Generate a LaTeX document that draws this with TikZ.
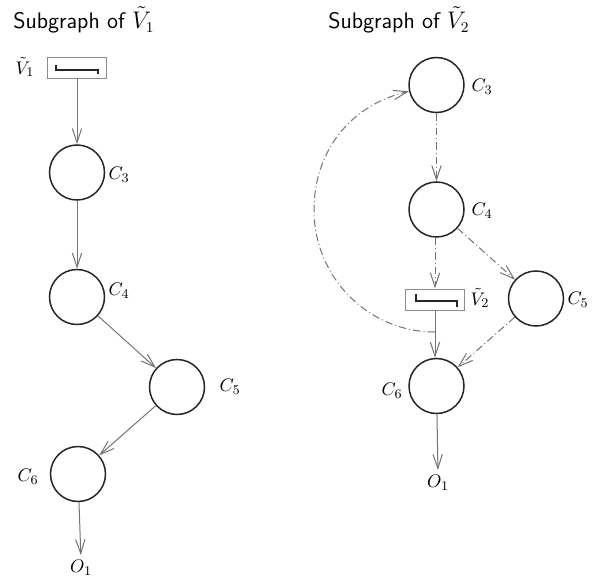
\documentclass[tikz,border=0pt]{standalone}
\usepackage{fontspec}
\usetikzlibrary{arrows.meta}
\tikzset{
  cnode/.style={circle, draw=black!85, line width=0.9pt, minimum size=33pt, inner sep=0pt},
  vbox/.style={rectangle, draw=black!45, line width=0.6pt, minimum width=35pt, minimum height=12.6pt, inner sep=0pt},
  glyph/.style={draw=black!85, line width=1.4pt},
  lab/.style={font=\fontsize{11}{13}\selectfont, inner sep=0pt},
  ttl/.style={font=\fontsize{13.5}{16}\selectfont\sffamily, inner sep=0pt, anchor=base west},
  edge/.style={draw=black!55, line width=0.6pt, -{Straight Barb[length=8.5pt,width=5.6pt]}},
  dd/.style={edge, dash pattern=on 4.5pt off 1.8pt on 0.6pt off 1.8pt},
}
\begin{document}
\begin{tikzpicture}[x=0.6pt, y=-0.6pt]
\useasboundingbox (0,0) rectangle (595,581);
% titles
\node[ttl] (t1) at (13,29) {Subgraph of $\tilde{V}_1$};
\node[ttl] (t2) at (328,29) {Subgraph of $\tilde{V}_2$};
% left graph
\node[vbox] (lv) at (77,68.5) {};
\draw[glyph, shift={(lv.center)}] (-21,-3.5) -- (-21,1.5) -- (21,1.5) -- (21,5.5);
\node[lab] (lvl) at (25,67) {$\tilde{V}_1$};
\node[cnode] (l3) at (77,172.5) {};
\node[lab] (l3l) at (119,175) {$C_3$};
\node[cnode] (l4) at (77,297) {};
\node[lab] (l4l) at (119,291) {$C_4$};
\node[cnode] (l5) at (177,387) {};
\node[lab] (l5l) at (230,387) {$C_5$};
\node[cnode] (l6) at (78,474) {};
\node[lab] (l6l) at (28,477) {$C_6$};
\node[lab] (lo) at (81,568) {$O_1$};
\draw[edge] (lv) -- (l3);
\draw[edge] (l3) -- (l4);
\draw[edge] (l4) -- (l5);
\draw[edge] (l5) -- (l6);
\draw[edge, shorten >=3pt] (l6) -- (lo.north);
% right graph
\node[cnode] (r3) at (436.5,85) {};
\node[lab] (r3l) at (482,87) {$C_3$};
\node[cnode] (r4) at (436.5,209.5) {};
\node[lab] (r4l) at (482,211) {$C_4$};
\node[vbox] (rv) at (435,299.5) {};
\draw[glyph, shift={(rv.center)}] (-19,-6) -- (-19,1.5) -- (22,1.5) -- (22,7);
\node[lab] (rvl) at (480,298) {$\tilde{V}_2$};
\node[cnode] (r5) at (536,298.5) {};
\node[lab] (r5l) at (578,300) {$C_5$};
\node[cnode] (r6) at (436.5,386) {};
\node[lab] (r6l) at (392,391) {$C_6$};
\node[lab] (ro) at (438,483) {$O_1$};
\coordinate (cs) at (435,332);
\coordinate (cm) at (314,210);
\draw[dd] (r3) -- (r4);
\draw[dd] (r4.south -| rv.north) -- (rv.north);
\draw[dd] (r4) -- (r5);
\draw[dd] (r5) -- (r6);
\draw[edge] (rv.south) -- (rv.south |- r6.north);
\draw[edge, shorten >=3pt] (r6) -- (ro.north);
\draw[dd] (cs) to[out=180, in=270] (cm) to[out=90, in=193] (r3);
\end{tikzpicture}
\end{document}
